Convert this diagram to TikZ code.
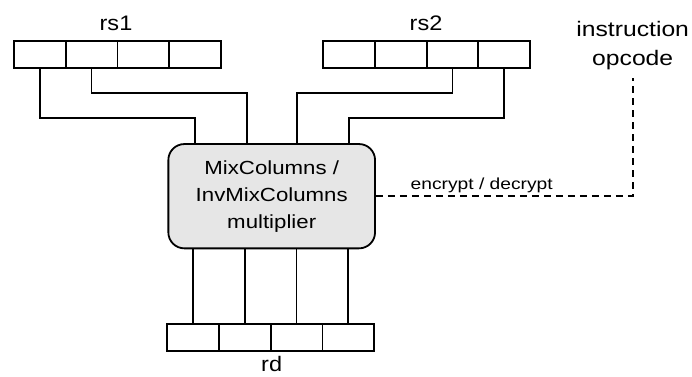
\documentclass[tikz,border=0pt]{standalone}
\usepackage{fontspec}
\setmainfont{Liberation Sans}
\begin{document}
\begin{tikzpicture}[x=1pt,y=-1pt,
  wire/.style={line width=1.8pt, line join=miter},
  cell/.style={draw, line width=1.8pt, minimum width=51.7pt, minimum height=26.7pt, inner sep=0pt},
  lbl/.style={font=\fontsize{21}{22}\selectfont, xscale=1.12, inner sep=0pt, anchor=base},
  boxtxt/.style={font=\fontsize{19}{26.6}\selectfont, xscale=1.17, align=center, inner sep=0pt},
  small/.style={font=\fontsize{16}{18}\selectfont, xscale=1.2, inner sep=0pt, anchor=base},
  ctl/.style={line width=1.8pt, dash pattern=on 7pt off 5pt}]
\useasboundingbox (0,0) rectangle (692,376);
% registers
\foreach \i/\x in {1/39.85,2/91.55,3/143.25,4/194.95}{\node[cell] (a\i) at (\x,54.35) {};}
\foreach \i/\x in {1/349.05,2/400.75,3/452.45,4/504.15}{\node[cell] (c\i) at (\x,54.35) {};}
\foreach \i/\x in {1/193.15,2/244.85,3/296.55,4/348.25}{\node[cell] (d\i) at (\x,337.5) {};}
\node[lbl] (l1) at (116,30.7) {rs1};
\node[lbl] (l2) at (426,30.7) {rs2};
\node[lbl] (l3) at (271.7,371.7) {rd};
% box
\node[draw, line width=1.8pt, fill={rgb,255:red,230;green,230;blue,230}, rounded corners=16pt,
      minimum width=206.7pt, minimum height=104.3pt, inner sep=0pt] (b) at (271.7,196.2) {};
\node[boxtxt] (bt) at (271.7,196.5) {MixColumns /\\InvMixColumns\\multiplier};
% entry points on box top
\coordinate (t1) at (195,144);
\coordinate (t2) at (246.7,144);
\coordinate (t3) at (297.3,144);
\coordinate (t4) at (349.3,144);
\draw[wire] (a1.south) -- (a1.south |- 0,118) -| (t1);
\draw[wire] (a2.south) -- (a2.south |- 0,93) -| (t2);
\draw[wire] (c3.south) -- (c3.south |- 0,93) -| (t3);
\draw[wire] (c4.south) -- (c4.south |- 0,118) -| (t4);
% outputs
\foreach \i in {1,2,3,4}{\draw[wire] (d\i.north |- b.south) -- (d\i.north);}
% control
\node[lbl, anchor=south, align=center, inner ysep=8.5pt, font=\fontsize{21}{28.3}\selectfont, xscale=1.05] (op) at (632.7,78.3) {instruction\\opcode};
\draw[ctl] (b.east) -| (op.south);
\node[small] (ed) at (481.7,189) {encrypt / decrypt};
\end{tikzpicture}
\end{document}
